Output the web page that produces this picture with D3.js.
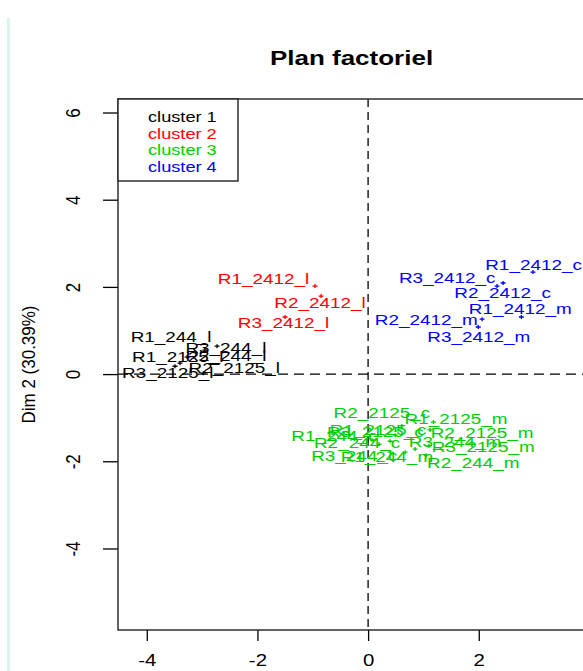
<!DOCTYPE html>
<html>
<head>
<meta charset="utf-8">
<script src="https://cdn.jsdelivr.net/npm/d3@7"></script>
<style>
  html, body { margin: 0; padding: 0; background: #fff; }
  svg { display: block; }
  text { font-family: "Liberation Sans", Arial, sans-serif; }
</style>
</head>
<body>
<svg id="chart" width="583" height="671"></svg>
<script>
// Individuals on the first factorial plane (Dim 1 x Dim 2), coloured by cluster
const samples = [
  "R1_244_l", "R2_244_l", "R3_244_l", "R1_2125_l", "R2_2125_l", "R3_2125_l",
  "R1_2412_l", "R2_2412_l", "R3_2412_l",
  "R1_2125_c", "R2_2125_c", "R3_2125_c", "R1_2125_m", "R2_2125_m", "R3_2125_m",
  "R1_244_c", "R2_244_c", "R3_244_c", "R1_244_m", "R2_244_m", "R3_244_m",
  "R1_2412_c", "R2_2412_c", "R3_2412_c", "R1_2412_m", "R2_2412_m", "R3_2412_m"
];
const dim1 = [
  -2.73, -3.27, -2.95, -3.40, -2.98, -3.49,
  -0.96, -0.85, -1.50,
  0.49, 0.61, 0.40, 1.18, 1.12, 1.10,
  0.07, 0.20, 0.40, 0.67, 1.05, 0.85,
  2.98, 2.44, 2.33, 2.77, 2.06, 1.99
];
const dim2 = [
  0.64, 0.39, 0.55, 0.25, 0.02, 0.18,
  2.02, 1.79, 1.31,
  -1.40, -1.19, -1.54, -1.10, -1.28, -1.65,
  -1.51, -1.61, -1.79, -1.79, -1.86, -1.72,
  2.34, 2.09, 2.02, 1.31, 1.26, 1.08
];
const cluster = [
  1, 1, 1, 1, 1, 1,
  2, 2, 2,
  3, 3, 3, 3, 3, 3,
  3, 3, 3, 3, 3, 3,
  4, 4, 4, 4, 4, 4
];
// label anchor coordinates in the factor space (after label repelling)
const labelDim1 = [
  -3.56, -2.57, -2.57, -3.44, -2.42, -3.62,
  -1.89, -0.87, -1.53,
  0.18, 0.25, 0.13, 1.59, 2.06, 2.08,
  -0.61, -0.20, -0.25, 0.34, 1.90, 1.57,
  2.99, 2.43, 1.43, 2.75, 1.05, 2.00
];
const labelDim2 = [
  0.85, 0.41, 0.60, 0.39, 0.14, 0.02,
  2.18, 1.63, 1.17,
  -1.28, -0.89, -1.33, -1.03, -1.35, -1.67,
  -1.42, -1.58, -1.88, -1.90, -2.04, -1.56,
  2.50, 1.86, 2.20, 1.49, 1.24, 0.85
];
const clusterNames = ["cluster 1", "cluster 2", "cluster 3", "cluster 4"];
const xTicks = [-4, -2, 0, 2];
const yTicks = [-4, -2, 0, 2, 4, 6];
const chartTitle = "Plan factoriel";
const yTitle = "Dim 2 (30.39%)";

// R default palette: black, red, green3, blue
const palette = ["#000000", "#FF0000", "#00CD00", "#0000FF"];

const svg = d3.select("#chart");
const plot = { left: 118, top: 99, right: 585, bottom: 630 };

const x = d3.scaleLinear().domain([-4.52, 3.92]).range([plot.left, plot.right]);
const y = d3.scaleLinear().domain([-5.87, 6.31]).range([plot.bottom, plot.top]);

// thin mint rule on the page's left margin
svg.append("rect").attr("x", 7).attr("y", 18).attr("width", 3).attr("height", 653)
  .attr("fill", "#d9f7e8");

// text helper: horizontally widened glyphs
function label(g, tx, ty, str, opts) {
  const o = Object.assign({ size: 14, sx: 1.35, anchor: "middle", rot: 0, fill: "#000", weight: "normal", dy: "0.36em" }, opts);
  return g.append("text")
    .attr("transform", `translate(${tx},${ty}) scale(${o.sx},1)` + (o.rot ? ` rotate(${o.rot})` : ""))
    .attr("text-anchor", o.anchor)
    .attr("dy", o.dy)
    .attr("font-size", o.size)
    .attr("font-weight", o.weight)
    .attr("fill", o.fill)
    .text(str);
}

// title
label(svg, (plot.left + plot.right) / 2, 58, chartTitle, { size: 20, sx: 1.3, weight: "bold" });

// y axis title
label(svg, 28, (plot.top + plot.bottom) / 2, yTitle, { size: 17, sx: 1.1, rot: -90 });

// axes
const gx = svg.append("g").attr("transform", `translate(0,${plot.bottom})`)
  .call(d3.axisBottom(x).tickValues(xTicks).tickSize(11).tickSizeOuter(0).tickFormat(d => String(d)));
gx.select(".domain").remove();
gx.selectAll(".tick line").attr("stroke", "#000").attr("stroke-width", 1.3);
gx.selectAll(".tick text").each(function (d) {
  const t = d3.select(this);
  t.attr("y", null).attr("dy", null).attr("fill", "#000")
    .attr("font-size", 17).attr("text-anchor", "middle")
    .attr("transform", "translate(0,36) scale(1.2,1)");
});

const gy = svg.append("g").attr("transform", `translate(${plot.left},0)`)
  .call(d3.axisLeft(y).tickValues(yTicks).tickSize(15).tickSizeOuter(0).tickFormat(d => String(d)));
gy.select(".domain").remove();
gy.selectAll(".tick line").attr("stroke", "#000").attr("stroke-width", 1.3);
gy.selectAll(".tick text").each(function () {
  d3.select(this).attr("x", null).attr("dy", "0.36em").attr("fill", "#000")
    .attr("font-size", 17).attr("text-anchor", "middle")
    .attr("transform", "translate(-45,0) scale(1.15,1) rotate(-90)");
});

// reference lines through the origin
svg.append("line")
  .attr("x1", x(0)).attr("x2", x(0)).attr("y1", plot.top).attr("y2", plot.bottom)
  .attr("stroke", "#000").attr("stroke-width", 1.3).attr("stroke-dasharray", "8,5");
svg.append("line")
  .attr("x1", plot.left).attr("x2", plot.right).attr("y1", y(0)).attr("y2", y(0))
  .attr("stroke", "#000").attr("stroke-width", 1.3).attr("stroke-dasharray", "10,6");

// individuals
const idx = d3.range(samples.length);
const marks = svg.append("g");
marks.selectAll("path").data(idx).join("path")
  .attr("d", i => {
    const px = x(dim1[i]), py = y(dim2[i]);
    return `M${px - 2.5},${py}H${px + 2.5}M${px},${py - 2}V${py + 2}`;
  })
  .attr("stroke", i => palette[cluster[i] - 1])
  .attr("stroke-width", 1.3);

const labels = svg.append("g");
idx.forEach(i => {
  label(labels, x(labelDim1[i]), y(labelDim2[i]), samples[i],
    { size: 14, sx: 1.35, fill: palette[cluster[i] - 1] });
});

// plot frame
svg.append("rect")
  .attr("x", plot.left).attr("y", plot.top)
  .attr("width", plot.right - plot.left).attr("height", plot.bottom - plot.top)
  .attr("fill", "none").attr("stroke", "#222").attr("stroke-width", 1.4);

// legend
const lg = svg.append("g");
lg.append("rect").attr("x", plot.left).attr("y", plot.top).attr("width", 120).attr("height", 82)
  .attr("fill", "#fff").attr("stroke", "#222").attr("stroke-width", 1.4);
clusterNames.forEach((name, k) => {
  label(lg, 148, 117 + k * 16.5, name, { size: 14, sx: 1.3, anchor: "start", fill: palette[k] });
});
</script>
</body>
</html>
